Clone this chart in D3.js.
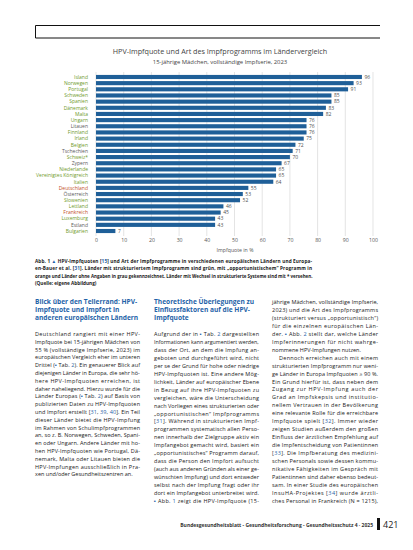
<!DOCTYPE html>
<html>
<head>
<meta charset="utf-8">
<script src="https://cdn.jsdelivr.net/npm/d3@7"></script>
<style>
  body { margin: 0; background: #fff; }
  svg { display: block; font-family: "Open Sans", "Liberation Sans", sans-serif; }
</style>
</head>
<body>
<script>
// main js file

//countries in chart order, top to bottom
var countries = ["Island", "Norwegen", "Portugal", "Schweden", "Spanien", "Dänemark", "Malta", "Ungarn", "Litauen", "Finnland", "Irland", "Belgien", "Tschechien", "Schweiz*", "Zypern", "Niederlande", "Vereinigtes Königreich", "Italien", "Deutschland", "Österreich", "Slowenien", "Lettland", "Frankreich", "Luxemburg", "Estland", "Bulgarien"];
//HPV-Impfquote in %
var quotes = [96, 93, 91, 85, 85, 83, 82, 76, 76, 76, 75, 72, 71, 70, 67, 65, 65, 64, 55, 53, 52, 46, 45, 43, 43, 7];
//programm type: s = strukturiert, o = opportunistisch, n = keine Angabe
var programs = ["s", "s", "s", "s", "s", "s", "s", "s", "n", "s", "s", "s", "n", "s", "n", "s", "s", "s", "o", "n", "s", "s", "o", "s", "n", "s"];
var xTicks = [0, 10, 20, 30, 40, 50, 60, 70, 80, 90, 100];

var progColor = {s: "#6f9a2c", o: "#c2522a", n: "#5a5a5a"};

//page texts ("|" = line not justified, ">" = indent, {..} = blue)
var caption = [
    "Abb. 1 {▲} HPV-Impfquoten [{15}] und Art der Impfprogramme in verschiedenen europäischen Ländern und Europa-",
    "en-Bauer et al. [{31}]. Länder mit strukturiertem Impfprogramm sind grün, mit „opportunistischem“ Programm in",
    "orange und Länder ohne Angaben in grau gekennzeichnet. Länder mit Wechsel in strukturierte Systeme sind mit * versehen.|",
    "(Quelle: eigene Abbildung)|"
];
var head1 = ["Blick über den Tellerrand: HPV-", "Impfquote und Impfort in", "anderen europäischen Ländern"];
var head2 = ["Theoretische Überlegungen zu", "Einflussfaktoren auf die HPV-", "Impfquote"];
var col1 = [
    "Deutschland rangiert mit einer HPV-",
    "Impfquote bei 15-jährigen Mädchen von",
    "55 % (vollständige Impfserie, 2023) im",
    "europäischen Vergleich eher im unteren",
    "Drittel ({▪} Tab. {2}). Ein genauerer Blick auf",
    "diejenigen Länder in Europa, die sehr hö-",
    "here HPV-Impfquoten erreichen, ist",
    "daher naheliegend. Hierzu wurde für die",
    "Länder Europas ({▪} Tab. {2}) auf Basis von",
    "publizierten Daten zu HPV-Impfquoten",
    "und Impfort erstellt [{31}, {39}, {40}]. Ein Teil",
    "dieser Länder bietet die HPV-Impfung",
    "im Rahmen von Schulimpfprogrammen",
    "an, so z. B. Norwegen, Schweden, Spani-",
    "en oder Ungarn. Andere Länder mit ho-",
    "hen HPV-Impfquoten wie Portugal, Dä-",
    "nemark, Malta oder Litauen bieten die",
    "HPV-Impfungen ausschließlich in Pra-",
    "xen und/oder Gesundheitszentren an.|"
];
var col2 = [
    "Aufgrund der in {▪} Tab. {2} dargestellten",
    "Informationen kann argumentiert werden,",
    "dass der Ort, an dem die Impfung an-",
    "geboten und durchgeführt wird, nicht",
    "per se der Grund für hohe oder niedrige",
    "HPV-Impfquoten ist. Eine andere Mög-",
    "lichkeit, Länder auf europäischer Ebene",
    "in Bezug auf ihre HPV-Impfquoten zu",
    "vergleichen, wäre die Unterscheidung",
    "nach Vorliegen eines strukturierten oder",
    "„opportunistischen“ Impfprogramms",
    "[{31}]. Während in strukturierten Impf-",
    "programmen systematisch allen Perso-",
    "nen innerhalb der Zielgruppe aktiv ein",
    "Impfangebot gemacht wird, basiert ein",
    "„opportunistisches“ Programm darauf,",
    "dass die Person den Impfort aufsucht",
    "(auch aus anderen Gründen als einer ge-",
    "wünschten Impfung) und dort entweder",
    "selbst nach der Impfung fragt oder ihr",
    "dort ein Impfangebot unterbreitet wird.",
    "{▪} Abb. {1} zeigt die HPV-Impfquote (15-"
];
var col3 = [
    "jährige Mädchen, vollständige Impfserie,",
    "2023) und die Art des Impfprogramms",
    "(strukturiert versus „opportunistisch“)",
    "für die einzelnen europäischen Län-",
    "der. {▪} Abb. {2} stellt dar, welche Länder",
    "Impferinnerungen für nicht wahrge-",
    "nommene HPV-Impfungen nutzen.|",
    ">Dennoch erreichen auch mit einem",
    "strukturierten Impfprogramm nur weni-",
    "ge Länder in Europa Impfquoten ≥ 90 %.",
    "Ein Grund hierfür ist, dass neben dem",
    "Zugang zur HPV-Impfung auch der",
    "Grad an Impfskepsis und institutio-",
    "nellem Vertrauen in der Bevölkerung",
    "eine relevante Rolle für die erreichbare",
    "Impfquote spielt [{32}]. Immer wieder",
    "zeigen Studien außerdem den großen",
    "Einfluss der ärztlichen Empfehlung auf",
    "die Impfentscheidung von Patientinnen",
    "[{33}]. Die Impfberatung des medizini-",
    "schen Personals sowie dessen kommu-",
    "nikative Fähigkeiten im Gespräch mit",
    "Patientinnen sind daher ebenso bedeut-",
    "sam. In einer Studie des europäischen",
    "InsuHA-Projektes [{34}] wurde ärztli-",
    "ches Personal in Frankreich (N = 1215),"
];

var width = 413,
    height = 550;

var page = d3.select("body")
    .append("svg")
    .attr("width", width)
    .attr("height", height);

//open box at the top of the page
page.append("path")
    .attr("d", "M380,25.5H35.5V38H380")
    .attr("fill", "none")
    .attr("stroke", "#111")
    .attr("stroke-width", 1);

//chart titles
page.append("text")
    .attr("x", 220).attr("y", 54)
    .attr("text-anchor", "middle")
    .attr("font-size", 7.2)
    .attr("fill", "#444")
    .text("HPV-Impfquote und Art des Impfprogramms im Ländervergleich");
page.append("text")
    .attr("x", 220).attr("y", 63.5)
    .attr("text-anchor", "middle")
    .attr("font-size", 5.9)
    .attr("fill", "#444")
    .text("15-jährige Mädchen, vollständige Impfserie, 2023");

//scales
var x = d3.scaleLinear()
    .domain([0, 100])
    .range([96, 373]);

var y = d3.scaleBand()
    .domain(countries)
    .range([74, 234])
    .paddingInner(0.33)
    .paddingOuter(0.15);

//gridlines
page.append("g")
    .selectAll("line")
    .data(xTicks)
    .enter()
    .append("line")
    .attr("x1", function(d){ return x(d); })
    .attr("x2", function(d){ return x(d); })
    .attr("y1", 72)
    .attr("y2", 236)
    .attr("stroke", "#d9d9d9")
    .attr("stroke-width", 0.7);

//x axis labels
var xAxis = d3.axisBottom(x)
    .tickValues(xTicks)
    .tickSize(0)
    .tickPadding(0);

page.append("g")
    .attr("transform", "translate(0,238)")
    .call(xAxis)
    .call(function(g){ g.select(".domain").remove(); })
    .selectAll("text")
    .attr("font-size", 5.2)
    .attr("fill", "#555")
    .attr("font-family", "Open Sans, sans-serif");

page.append("text")
    .attr("x", 235).attr("y", 252)
    .attr("text-anchor", "middle")
    .attr("font-size", 5.2)
    .attr("fill", "#555")
    .text("Impfquote in %");

//bars
page.append("g")
    .selectAll("rect")
    .data(quotes)
    .enter()
    .append("rect")
    .attr("x", x(0))
    .attr("y", function(d, i){ return y(countries[i]); })
    .attr("width", function(d){ return x(d) - x(0); })
    .attr("height", y.bandwidth())
    .attr("fill", "#1f5f98");

//value labels
page.append("g")
    .selectAll("text")
    .data(quotes)
    .enter()
    .append("text")
    .attr("x", function(d){ return x(d) + 2.5; })
    .attr("y", function(d, i){ return y(countries[i]) + y.bandwidth() / 2 + 1.8; })
    .attr("font-size", 5)
    .attr("fill", "#505050")
    .text(function(d){ return d; });

//country labels coloured by programm
page.append("g")
    .selectAll("text")
    .data(countries)
    .enter()
    .append("text")
    .attr("x", 88)
    .attr("y", function(d){ return y(d) + y.bandwidth() / 2 + 1.8; })
    .attr("text-anchor", "end")
    .attr("font-size", 5)
    .attr("fill", function(d, i){ return progColor[programs[i]]; })
    .text(function(d){ return d; });

//writes justified text lines into the page
function textBlock(lines, x0, y0, w, lh, size, opts){
    opts = opts || {};
    lines.forEach(function(line, i){
        var justify = true, dx = 0;
        if (line.slice(-1) == "|"){ justify = false; line = line.slice(0, -1); }
        if (line.charAt(0) == ">"){ dx = 7; line = line.slice(1); }
        var t = page.append("text")
            .attr("x", x0 + dx)
            .attr("y", y0 + i * lh)
            .attr("font-size", size)
            .attr("fill", opts.color || "#1a1a1a")
            .attr("font-weight", opts.weight || "normal");
        line.split(/(\{[^}]*\})/).forEach(function(part){
            if (!part) return;
            var blue = part.charAt(0) == "{";
            t.append("tspan")
                .attr("fill", blue ? "#1f5fa8" : null)
                .text(blue ? part.slice(1, -1) : part);
        });
        var natural = t.node().getComputedTextLength();
        if (natural > w - dx){
            //too long: shrink the font until it fits
            t.attr("font-size", size * (w - dx) / natural);
        } else if (justify && !opts.noJustify){
            t.attr("textLength", w - dx).attr("lengthAdjust", "spacing");
        }
    });
}

//caption
textBlock(caption, 35, 262.5, 277, 7.6, 4.7, {weight: "bold"});

//section headings
textBlock(head1, 35, 304, 105, 8, 6.6, {color: "#1f63a8", weight: "bold", noJustify: true});
textBlock(head2, 154, 304, 105, 8, 6.6, {color: "#1f63a8", weight: "bold", noJustify: true});

//body columns
textBlock(col1, 35, 336, 105, 7.8, 5.5);
textBlock(col2, 154, 336, 105, 7.95, 5.5);
textBlock(col3, 272, 304, 106, 7.95, 5.5);

//footer
page.append("text")
    .attr("x", 373).attr("y", 527)
    .attr("text-anchor", "end")
    .attr("font-size", 5)
    .attr("font-weight", "bold")
    .attr("fill", "#333")
    .text("Bundesgesundheitsblatt - Gesundheitsforschung - Gesundheitsschutz 4 · 2025");
page.append("rect")
    .attr("x", 377).attr("y", 518)
    .attr("width", 3).attr("height", 12)
    .attr("fill", "#111");
page.append("text")
    .attr("x", 383).attr("y", 528)
    .attr("font-size", 9)
    .attr("fill", "#222")
    .text("421");
</script>
</body>
</html>
